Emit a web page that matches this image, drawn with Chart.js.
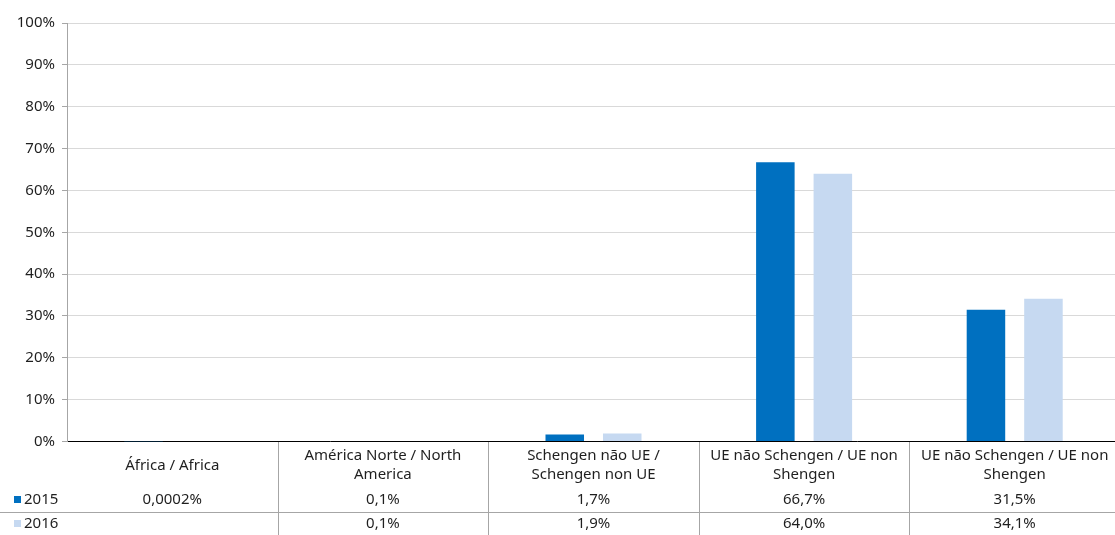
<!DOCTYPE html>
<html>
<head>
<meta charset="utf-8">
<script src="https://cdn.jsdelivr.net/npm/chart.js@4/dist/chart.umd.min.js"></script>
<style>
  html, body { margin: 0; padding: 0; background: #fff; overflow: hidden; }
  #wrap { width: 1115px; height: 535px; overflow: hidden; }
</style>
</head>
<body>
<div id="wrap"><canvas id="c" width="1120" height="535"></canvas></div>
<script>
// Regions of origin (each label split into the lines shown in the table header)
const categories = [
  ['África / Africa'],
  ['América Norte / North', 'America'],
  ['Schengen não UE /', 'Schengen non UE'],
  ['UE não Schengen / UE non', 'Shengen'],
  ['UE não Schengen / UE non', 'Shengen']
];
const seriesNames = ['2015', '2016'];
const values2015 = [0.0002, 0.1, 1.7, 66.7, 31.5];
const values2016 = [null, 0.1, 1.9, 64.0, 34.1];
const yTicks = [0, 10, 20, 30, 40, 50, 60, 70, 80, 90, 100];

const colors = ['#0070C0', '#C6D9F1'];
const FONT = '"Noto Sans", sans-serif';
const TEXT = '#1f1f1f';

function fmt(v) {
  if (v === null || v === undefined) return '';
  const d = Math.abs(v) < 0.01 ? 4 : 1;
  return v.toFixed(d).replace('.', ',') + '%';
}

// Data table drawn beneath the plot, aligned to the category scale
const dataTable = {
  id: 'dataTable',
  afterDraw(chart) {
    const ctx = chart.ctx;
    const x = chart.scales.x;
    const area = chart.chartArea;
    const n = categories.length;
    const cw = x.width / n;
    const H = chart.height;
    const top = Math.round(area.bottom);
    const rowLine = top + 70;
    ctx.save();
    ctx.strokeStyle = '#a6a6a6';
    ctx.lineWidth = 1;
    // vertical cell borders
    for (let i = 1; i < n; i++) {
      const bx = Math.round(x.left + i * cw) + 0.5;
      ctx.beginPath();
      ctx.moveTo(bx, top);
      ctx.lineTo(bx, H);
      ctx.stroke();
    }
    // separator between series rows
    ctx.beginPath();
    ctx.moveTo(0, rowLine + 0.5);
    ctx.lineTo(chart.width, rowLine + 0.5);
    ctx.stroke();

    ctx.fillStyle = TEXT;
    ctx.font = '15px ' + FONT;
    ctx.textAlign = 'center';
    ctx.textBaseline = 'middle';
    const headMid = top + 23.5;
    categories.forEach((lines, i) => {
      const cx = x.getPixelForValue(i);
      const lh = 19;
      const y0 = headMid - (lines.length - 1) * lh / 2;
      lines.forEach((t, k) => ctx.fillText(t, cx, y0 + k * lh));
    });
    const rows = [values2015, values2016];
    const rowY = [top + 58, top + 82];
    rows.forEach((vals, r) => {
      ctx.textAlign = 'center';
      ctx.fillStyle = TEXT;
      vals.forEach((v, i) => ctx.fillText(fmt(v), x.getPixelForValue(i), rowY[r]));
      // legend key
      ctx.fillStyle = colors[r];
      ctx.fillRect(14, Math.round(rowY[r]) - 4, 7, 7);
      ctx.fillStyle = TEXT;
      ctx.textAlign = 'left';
      ctx.fillText(seriesNames[r], 24, rowY[r]);
    });
    ctx.restore();
  }
};

new Chart(document.getElementById('c'), {
  type: 'bar',
  data: {
    labels: categories.map(l => l.join(' ')),
    datasets: [
      { label: seriesNames[0], data: values2015, backgroundColor: colors[0] },
      { label: seriesNames[1], data: values2016, backgroundColor: colors[1] }
    ]
  },
  options: {
    responsive: false,
    animation: false,
    events: [],
    categoryPercentage: 0.546,
    barPercentage: 0.67,
    layout: { padding: { top: 23, left: 0, right: 0, bottom: 0 } },
    plugins: { legend: { display: false }, tooltip: { enabled: false } },
    scales: {
      x: {
        z: 1,
        ticks: { display: false },
        grid: { display: false, drawTicks: false },
        border: { display: true, color: '#000', width: 1 },
        afterFit(s) { s.height = 93.5; }
      },
      y: {
        min: 0,
        max: 100,
        afterBuildTicks(s) { s.ticks = yTicks.map(v => ({ value: v })); },
        afterFit(s) { s.width = 67; },
        ticks: {
          callback: v => v + '%',
          color: TEXT,
          padding: 7,
          font: { family: FONT, size: 15 }
        },
        grid: { color: '#d9d9d9', tickColor: '#a6a6a6', tickLength: 5 },
        border: { color: '#a6a6a6' }
      }
    }
  },
  plugins: [dataTable]
});
</script>
</body>
</html>
